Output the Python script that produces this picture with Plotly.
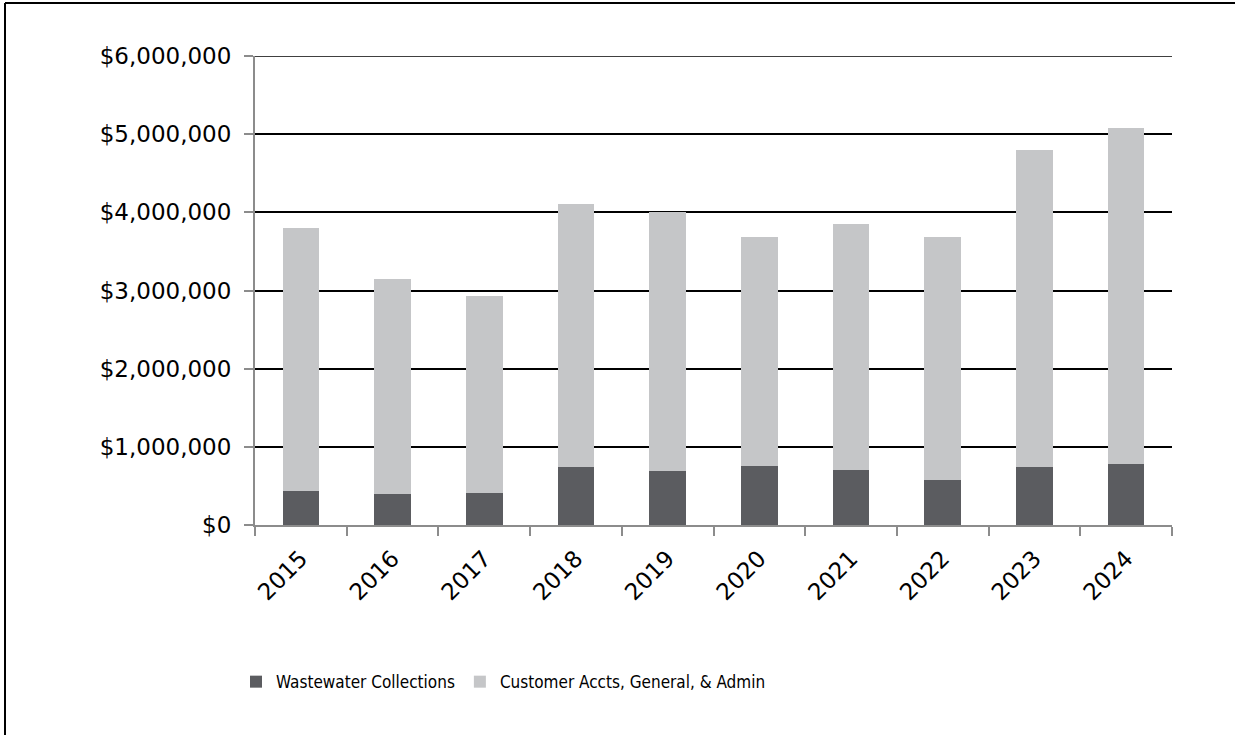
import plotly.graph_objects as go

years = ["2015", "2016", "2017", "2018", "2019", "2020", "2021", "2022", "2023", "2024"]
wastewater = [435000, 393000, 410000, 739000, 691000, 755000, 708000, 576000, 743000, 781000]
totals = [3800000, 3150000, 2928000, 4110000, 4000000, 3680000, 3854000, 3687000, 4797000, 5079000]
admin = [t - w for t, w in zip(totals, wastewater)]

y_ticks = [0, 1000000, 2000000, 3000000, 4000000, 5000000, 6000000]
y_tick_text = ["$0", "$1,000,000", "$2,000,000", "$3,000,000", "$4,000,000", "$5,000,000", "$6,000,000"]

tick_font = dict(family="DejaVu Sans", size=23, color="#000000")

fig = go.Figure()
fig.add_trace(go.Bar(x=years, y=wastewater, name="Wastewater Collections",
                     marker=dict(color="#5b5c60", line=dict(width=0))))
fig.add_trace(go.Bar(x=years, y=admin, name="Customer Accts, General, & Admin",
                     marker=dict(color="#c5c6c8", line=dict(width=0))))

# plot area geometry in pixels, used to place the outer frame
PLOT_W, PLOT_H = 917, 469
left_edge = -250 / PLOT_W
top_edge = 1 + 53 / PLOT_H
right_edge = (1235 - 255) / PLOT_W
bottom_edge = -(735 - 525) / PLOT_H

frame = dict(color="#000000", width=2)
shapes = [
    dict(type="line", xref="paper", yref="paper", x0=left_edge, x1=right_edge,
         y0=top_edge, y1=top_edge, line=frame),
    dict(type="line", xref="paper", yref="paper", x0=left_edge, x1=left_edge,
         y0=top_edge, y1=bottom_edge, line=frame),
    dict(type="line", xref="paper", yref="y", x0=0, x1=1, y0=6000000, y1=6000000,
         line=dict(color="#000000", width=1.5), layer="below"),
]

fig.update_layout(
    width=1235, height=735,
    barmode="stack", bargap=0.6,
    paper_bgcolor="white", plot_bgcolor="white",
    margin=dict(l=255, r=63, t=56, b=210, autoexpand=False),
    showlegend=True,
    legend=dict(orientation="h", x=-0.0207, xanchor="left", y=-0.335, yanchor="middle",
                font=dict(family="DejaVu Sans Condensed, DejaVu Sans", size=17, color="#000000"),
                itemwidth=30, traceorder="normal", bgcolor="rgba(0,0,0,0)"),
    xaxis=dict(
        type="category", tickangle=-45, tickfont=tick_font,
        showline=True, linecolor="#8c8c8c", linewidth=2,
        ticks="outside", ticklen=9, tickcolor="#8c8c8c", tickwidth=2,
        tickson="boundaries", showgrid=False, fixedrange=True,
        ticklabelstandoff=9,
    ),
    yaxis=dict(
        range=[0, 6000000], tickvals=y_ticks, ticktext=y_tick_text, tickfont=tick_font,
        showline=True, linecolor="#8c8c8c", linewidth=2,
        ticks="outside", ticklen=9, tickcolor="#8c8c8c", tickwidth=2,
        showgrid=True, gridcolor="#000000", gridwidth=1.5, zeroline=False,
        ticklabelstandoff=8,
    ),
    shapes=shapes,
)

fig.write_html("out.html")
